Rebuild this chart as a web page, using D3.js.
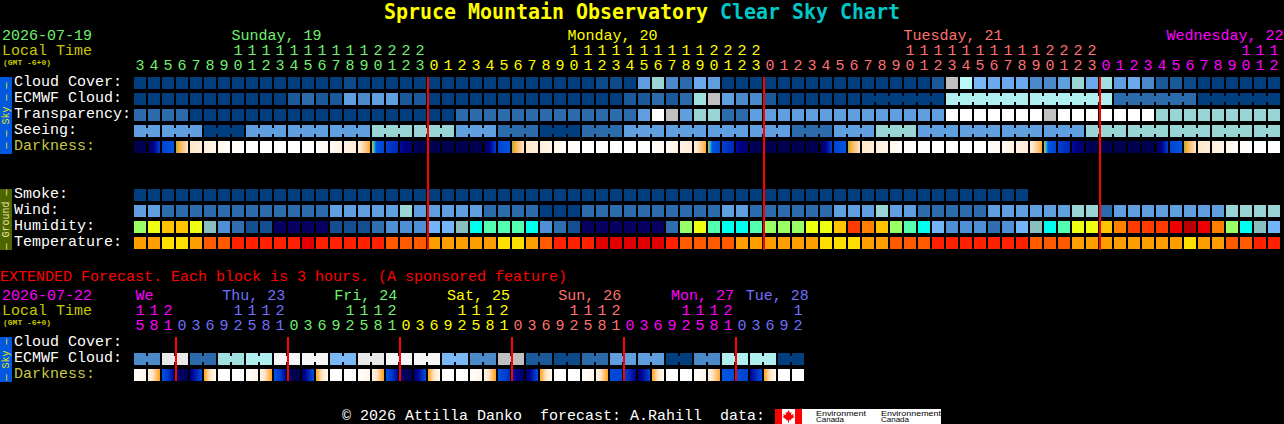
<!DOCTYPE html>
<html><head><meta charset="utf-8">
<script src="https://cdn.jsdelivr.net/npm/d3@7/dist/d3.min.js"></script>
<style>html,body{margin:0;padding:0;background:#000;overflow:hidden}
svg{display:block}text{font-family:"Liberation Mono",monospace;white-space:pre}</style></head>
<body><svg id="c" width="1284" height="424"></svg>
<script>
// ---- data: levels ----
const hours = [3,4,5,6,7,8,9,10,11,12,13,14,15,16,17,18,19,20,21,22,23,
  0,1,2,3,4,5,6,7,8,9,10,11,12,13,14,15,16,17,18,19,20,21,22,23,
  0,1,2,3,4,5,6,7,8,9,10,11,12,13,14,15,16,17,18,19,20,21,22,23,
  0,1,2,3,4,5,6,7,8,9,10,11,12];
const dayOfHourCol = [0,21,45,69];
const dayLabels = ["Sunday, 19","Monday, 20","Tuesday, 21","Wednesday, 22"];
const dayLabelCols = [7,31,55,73.79];
const cloudCover = [0,0,0,0,0,0,0,0,0,0, 0,0,0,0,0,1,0,0,0,0, 0,0,0,0,0,0,0,0,0,0,
  0,0,0,1,1,0,5,8,4,3, 6,5,0,0,0,0,0,0,0,0, 0,0,0,0,0,0,0,2,12,11,
  7,6,6,6,4,4,5,8,6,9, 5,6,4,2,2,1,0,0,0,0, 0,0];
const ecmwfCloud = [0,0,0,0,0,0,0,0,0,0, 0,2,3,2,2,5,4,5,5,2, 2,0,0,0,0,0,0,0,0,0,
  0,0,0,0,0,2,2,3,2,3, 9,12,5,4,4,2,0,0,0,0, 0,0,0,0,0,0,0,0,10,10,
  10,10,10,10,10,10,10,10,10,10, 3,3,3,3,3,3,0,0,0,0, 0,0];
const ecmwfSpans = [1,1,1,1,1,1,1,1,1,1,1,1,1,1,1,1,1,1,1,1,1,1,1,1,1,1,
  1,1,1,1,1,1,1,1,1,1,1,1,1,1,1,1,1,1,1,1,1,1,1,1,1,1,6,6,6,6,6];
const transparency = [3,3,3,3,0,0,0,0,0,0, 0,0,0,0,0,0,0,0,0,0, 0,0,0,3,3,3,3,3,3,3,
  3,3,3,3,3,3,5,15,12,5, 8,8,3,3,5,5,5,5,5,5, 5,5,5,5,5,5,5,5,15,15,
  15,15,15,15,15,12,15,15,15,15, 15,15,15,8,8,8,8,8,8,8, 8,8];
const seeing = [5,5,5,5,5,0,0,0,5,5, 5,5,5,5,5,5,5,8,8,8, 8,8,8,5,5,5,3,3,3,0,
  0,0,3,3,3,5,5,5,5,5, 5,5,5,5,5,5,5,3,3,3, 5,5,5,8,8,8,5,5,5,5,
  5,5,5,5,5,5,5,5,8,8, 8,8,8,8,8,8,8,8,8,8, 8,8];
const seeingSpans = [2,3,3,3,3,3,3,3,3,3,3,3,3,3,3,3,3,3,3,3,3,3,3,3,3,3,3,2];
const smoke = [0,0,0,0,0,0,0,0,0,0, 0,0,0,0,0,0,0,0,0,0, 0,0,0,0,0,0,0,0,0,0,
  0,0,0,0,0,0,0,0,0,0, 0,0,0,0,0,0,0,0,0,0, 0,0,0,0,0,0,0,0,0,0, 0,0,0,0];
const wind = [5,5,3,3,3,3,3,3,3,3, 3,3,3,3,5,5,5,5,5,8, 5,5,5,5,5,3,3,3,3,0,
  0,0,3,3,3,3,3,3,3,3, 3,3,5,5,3,3,3,3,3,3, 5,5,5,8,5,5,3,3,3,3,
  3,5,5,5,5,5,5,8,8,3, 5,5,5,5,5,5,5,5,8,8, 8,8];
const humidity = [8,9,10,10,9,5,3,2,1,1, 0,0,0,0,1,1,1,2,3,3, 3,4,4,5,6,7,7,7,6,3,
  2,1,0,0,0,0,0,0,2,8, 9,7,6,6,7,8,8,8,9,9, 10,12,11,10,8,7,6,4,3,3,
  3,2,3,4,5,6,7,9,9,10, 11,12,12,12,13,14,13,11,8,6, 5,4];
const temperature = [2,2,3,3,2,1,1,0,0,0, 0,0,-1,0,0,0,0,0,1,1, 1,2,2,2,2,2,3,3,2,1,
  0,0,0,-1,-1,-1,-1,-1,0,1, 1,1,1,2,2,2,2,2,2,3, 3,3,2,2,1,1,1,0,0,0,
  0,0,0,0,1,1,1,2,2,2, 2,2,2,2,2,3,2,2,1,1, 0,0];
const darkStart = [-4,-4,-1.9,-1,1,1.5,2.2,2.8,3,3, 3,3,3,2.8,2.5,1.9,1.4,-0.85,-2,-2.8,
  -3.8,-4,-4,-4,-4,-4,-1.9,-1,1,1.5, 2.2,2.8,3,3,3,3,3,2.8,2.5,1.9,
  1.4,-0.85,-2,-2.8,-3.8,-4,-4,-4,-4,-4, -1.9,-1,1,1.5,2.2,2.8,3,3,3,3,
  3,2.8,2.5,1.9,1.4,-0.85,-2,-2.8,-3.8,-4, -4,-4,-4,-4,-1.9,-1,1,1.5,2.2,2.8, 3,3];
const darkEnd = [-4,-2,-1.3,1,1.5,2.2,2.8,3,3,3, 3,3,3,2.5,1.9,1.4,-0.5,-1.9,-2.4,-3.6,
  -4,-4,-4,-4,-4,-2,-1.3,1,1.5,2.2, 2.8,3,3,3,3,3,3,2.5,1.9,1.4,
  -0.5,-1.9,-2.4,-3.6,-4,-4,-4,-4,-4,-2, -1.3,1,1.5,2.2,2.8,3,3,3,3,3,
  3,2.5,1.9,1.4,-0.5,-1.9,-2.4,-3.6,-4,-4, -4,-4,-4,-2,-1.3,1,1.5,2.2,2.8,3, 3,3];

const extHours = [15,18,21, 0,3,6,9,12,15,18,21, 0,3,6,9,12,15,18,21, 0,3,6,9,12,15,18,21,
  0,3,6,9,12,15,18,21, 0,3,6,9,12,15,18,21, 0,3,6,9,12];
const extDayStarts = [0,3,11,19,27,35,43];
const extDayLabels = ["We","Thu, 23","Fri, 24","Sat, 25","Sun, 26","Mon, 27","Tue, 28"];
const extDayLabelX = [0.1,6.3,14.3,22.35,30.3,38.35,43.7];
const extEcmwf = [4,13,3,9,10,14,14,7,13,14,14,7,4,12,2,1,3,5,5,0,4,10,10,0];
const extDarkStart = [3,2,-1.4,-3.6,-3.2,-0.85,3,3,3,2,-1.3,-3.9,-3.5,-0.8,3,3,3,2,-1.4,-3.6,-3.5,-0.8,3,3,
  3,2,-1.5,-2.5,-3.6,-0.8,3,3,3,2,-1.6,-1.9,-3.4,-0.8,3,3,3,1.8,-1.3,-1.5,-3,-0.8,3,3];
const extDarkEnd = [2,-0.85,-2.9,-3.9,-1.8,2.6,3,3,2,-0.85,-2.9,-4,-1.6,2.6,3,3,2,-0.85,-2.9,-4,-1.7,2.6,3,3,
  2,-0.85,-2.3,-3.8,-1.7,2.6,3,3,2,-0.85,-1.9,-3,-1.9,2.6,3,3,2,-0.6,-1.5,-2,-1.7,2.6,3,3];

// ---- colours ----
const skyColors = ["#003e7e","#0c4a8a","#1a5a9a","#2b6bab","#4a8acb","#5f9fdf","#69a9ec","#7ab8f5",
  "#99d5d5","#a0e0e0","#afefef","#b8f8f8","#c0c0c0","#e8e8e8","#f6f6f6","#ffffff"];
const humColors = ["#080060","#134f90","#2f6fb0","#4f8fd6","#74b4f8","#88c0c0","#00ffee","#55ffb0",
  "#99ff66","#eeff11","#ffc400","#ff8000","#ff3a00","#ee0000","#bb0000"];
const tempLevels = [-1,0,1,2,3];
const tempColors = ["#e00000","#ff2000","#ff5a00","#ff9e00","#ffde00"];
const dayColors = ["#70f070","#ffff00","#ff7070","#ff00ff"];
const extDayColors = ["#ff00ff","#7070ff","#70f070","#ffff00","#ff7070","#ff00ff","#7070ff"];

const sky = d3.scaleOrdinal(d3.range(skyColors.length), skyColors);
const hum = d3.scaleOrdinal(d3.range(humColors.length), humColors);
const temp = d3.scaleOrdinal(tempLevels, tempColors);
const dark = d3.scaleLinear()
  .domain([-4,-3,-2,-1.2,-1,-0.9,0,1,2,3])
  .range(["#000050","#000090","#0040d0","#0058e0","#00d8ff","#ffa000","#ffc078","#ffe8cc","#fff4e6","#ffffff"]);

const svg = d3.select("#c");
svg.append("rect").attr("width",1284).attr("height",424).attr("fill","#000");
const defs = svg.append("defs");
const x = d3.scaleBand().domain(d3.range(hours.length)).range([133,1281]).paddingInner(1/7).paddingOuter(1/14);
const xe = d3.scaleBand().domain(d3.range(extHours.length)).range([133,805]).paddingInner(1/7).paddingOuter(1/14);
const W = x.bandwidth(), H = 12;
const y = d3.scalePoint().domain(["Cloud Cover:","ECMWF Cloud:","Transparency:","Seeing:","Darkness:"]).range([77,141]);
const yg = d3.scalePoint().domain(["Smoke:","Wind:","Humidity:","Temperature:"]).range([189,237]);
const ye = d3.scalePoint().domain(["Cloud Cover:","ECMWF Cloud:","Darkness:"]).range([337,369]);
const FS = 15;

function txt(s,px,py,fill,size,opts){
  const t = svg.append("text").attr("x",px).attr("y",py).attr("fill",fill).attr("font-size",size||FS).text(s);
  if(opts) Object.entries(opts).forEach(([k,v])=>t.attr(k,v));
  return t;
}
function row(vals,color,sx,rowY,spans){
  const g = svg.append("g");
  g.selectAll("rect.b").data(vals).join("rect").attr("class","b")
    .attr("x",(d,i)=>sx(i)).attr("y",rowY).attr("width",W).attr("height",H).attr("fill",d=>color(d));
  if(spans){
    const links=[]; let p=0;
    spans.forEach(n=>{ for(let k=0;k<n-1;k++) links.push(p+k); p+=n; });
    g.selectAll("rect.n").data(links).join("rect").attr("class","n")
      .attr("x",i=>sx(i)+W).attr("y",rowY+3).attr("width",sx.step()-W).attr("height",H-6).attr("fill",i=>color(vals[i]));
  }
}
let gid=0;
function darkRow(st,en,sx,rowY){
  svg.append("g").selectAll("rect").data(st).join("rect")
    .attr("x",(d,i)=>sx(i)).attr("y",rowY).attr("width",W).attr("height",H)
    .attr("fill",(d,i)=>{
      const id="dk"+(gid++);
      const lg=defs.append("linearGradient").attr("id",id);
      const n=12;
      d3.range(n+1).forEach(k=>lg.append("stop").attr("offset",k/n).attr("stop-color",dark(d+(en[i]-d)*k/n)));
      return "url(#"+id+")";
    });
}

// ---- title ----
const titleStyle = {"font-weight":"bold","lengthAdjust":"spacingAndGlyphs","style":"font-family:'DejaVu Sans Mono'"};
txt("Spruce Mountain Observatory",384,19,"#ffff00",21.5,{...titleStyle,"textLength":324});
txt("Clear Sky Chart",720,19,"#00c8c8",21.5,{...titleStyle,"textLength":180});

// ---- main header ----
txt("2026-07-19",2,40,"#70f070");
txt("Local Time",2,55,"#c8c800");
txt("(GMT -6+0)",3,65,"#c8c800",8,{"font-weight":"bold"});
const dayOf = i => d3.bisectRight(dayOfHourCol,i)-1;
dayLabels.forEach((s,k)=>txt(s,x(0)+dayLabelCols[k]*x.step()-0.5,40,dayColors[k]));
svg.append("g").selectAll("text").data(hours).join("text").attr("text-anchor","middle")
  .attr("x",(d,i)=>x(i)+W/2).attr("y",70).attr("font-size",FS).attr("fill",(d,i)=>dayColors[dayOf(i)]).text(d=>d%10);
svg.append("g").selectAll("text").data(hours).join("text").attr("text-anchor","middle")
  .attr("x",(d,i)=>x(i)+W/2).attr("y",55).attr("font-size",FS).attr("fill",(d,i)=>dayColors[dayOf(i)]).text(d=>d>=10?Math.floor(d/10):"");

// ---- side bars ----
function bar(y0,y1,fill,label,tc){
  svg.append("rect").attr("x",0).attr("y",y0).attr("width",12).attr("height",y1-y0).attr("fill",fill);
  const cy=(y0+y1)/2;
  txt(label,0,0,tc,10,{"text-anchor":"middle","transform":`translate(9,${cy}) rotate(-90)`});
}
bar(77,154,"#0058e0","— — Sky — —","#e8e800");
bar(189,250,"#4f6600","— Ground —","#e8e8a0");
bar(337,382,"#0058e0","— Sky —","#e8e800");

// ---- row labels ----
y.domain().forEach(s=>txt(s,14,y(s)+9,s==="Darkness:"?"#c8c840":"#fff"));
yg.domain().forEach(s=>txt(s,14,yg(s)+9,"#fff"));

// ---- main rows ----
row(cloudCover,sky,x,y("Cloud Cover:"));
row(ecmwfCloud,sky,x,y("ECMWF Cloud:"),ecmwfSpans);
row(transparency,sky,x,y("Transparency:"));
row(seeing,sky,x,y("Seeing:"),seeingSpans);
darkRow(darkStart,darkEnd,x,y("Darkness:"));
row(smoke,sky,x,yg("Smoke:"));
row(wind,sky,x,yg("Wind:"));
row(humidity,hum,x,yg("Humidity:"));
row(temperature,temp,x,yg("Temperature:"));

// midnight lines
svg.append("g").selectAll("rect").data(dayOfHourCol.slice(1)).join("rect")
  .attr("x",d=>x(d)-1).attr("y",77).attr("width",2).attr("height",173).attr("fill","#ff0000");

// ---- extended ----
txt("EXTENDED Forecast. Each block is 3 hours. (A sponsored feature)",0,281,"#ff0000");
txt("2026-07-22",2,300,"#ff00ff");
txt("Local Time",2,315,"#c8c800");
txt("(GMT -6+0)",3,325,"#c8c800",8,{"font-weight":"bold"});
extDayLabels.forEach((s,k)=>txt(s,xe(0)+extDayLabelX[k]*xe.step(),300,extDayColors[k]));
const extDayOf = i => d3.bisectRight(extDayStarts,i)-1;
svg.append("g").selectAll("text").data(extHours).join("text").attr("text-anchor","middle")
  .attr("x",(d,i)=>xe(i)+W/2).attr("y",330).attr("font-size",FS).attr("fill",(d,i)=>extDayColors[extDayOf(i)]).text(d=>d%10);
svg.append("g").selectAll("text").data(extHours).join("text").attr("text-anchor","middle")
  .attr("x",(d,i)=>xe(i)+W/2).attr("y",315).attr("font-size",FS).attr("fill",(d,i)=>extDayColors[extDayOf(i)]).text(d=>d>=10?Math.floor(d/10):"");
ye.domain().forEach(s=>txt(s,14,ye(s)+9,s==="Darkness:"?"#c8c840":"#fff"));
const extCells = extEcmwf.flatMap(v=>[v,v]);
row(extCells,sky,xe,ye("ECMWF Cloud:"),extEcmwf.map(()=>2));
darkRow(extDarkStart,extDarkEnd,xe,ye("Darkness:"));
svg.append("g").selectAll("rect").data(extDayStarts.slice(1)).join("rect")
  .attr("x",d=>xe(d)-1).attr("y",337).attr("width",2).attr("height",44).attr("fill","#ff0000");

// ---- footer ----
txt("© 2026 Attilla Danko  forecast: A.Rahill  data:",342,420,"#fff");
svg.append("rect").attr("x",775).attr("y",409).attr("width",166).attr("height",15).attr("fill","#fff");
svg.append("rect").attr("x",775).attr("y",409).attr("width",7).attr("height",15).attr("fill","#f00");
svg.append("rect").attr("x",795).attr("y",409).attr("width",7).attr("height",15).attr("fill","#f00");
svg.append("path").attr("fill","#f00").attr("transform","translate(788.5,416)")
  .attr("d","M0,-6 L1.5,-3 L3,-4 L2.5,-1 L5.5,-2 L4.5,0 L6,1 L2,3.5 L2.5,4.5 L0.5,4 L0.5,6.5 L-0.5,6.5 L-0.5,4 L-2.5,4.5 L-2,3.5 L-6,1 L-4.5,0 L-5.5,-2 L-2.5,-1 L-3,-4 L-1.5,-3 Z");
[["Environment","Canada",816,50],["Environnement","Canada",881,60]].forEach(([a,b,px,len])=>{
  txt(a,px,415.5,"#000",8,{"style":"font-family:'Liberation Sans'","textLength":len,"lengthAdjust":"spacingAndGlyphs"});
  txt(b,px,422,"#000",8,{"style":"font-family:'Liberation Sans'","textLength":28,"lengthAdjust":"spacingAndGlyphs"});
});
</script></body></html>
